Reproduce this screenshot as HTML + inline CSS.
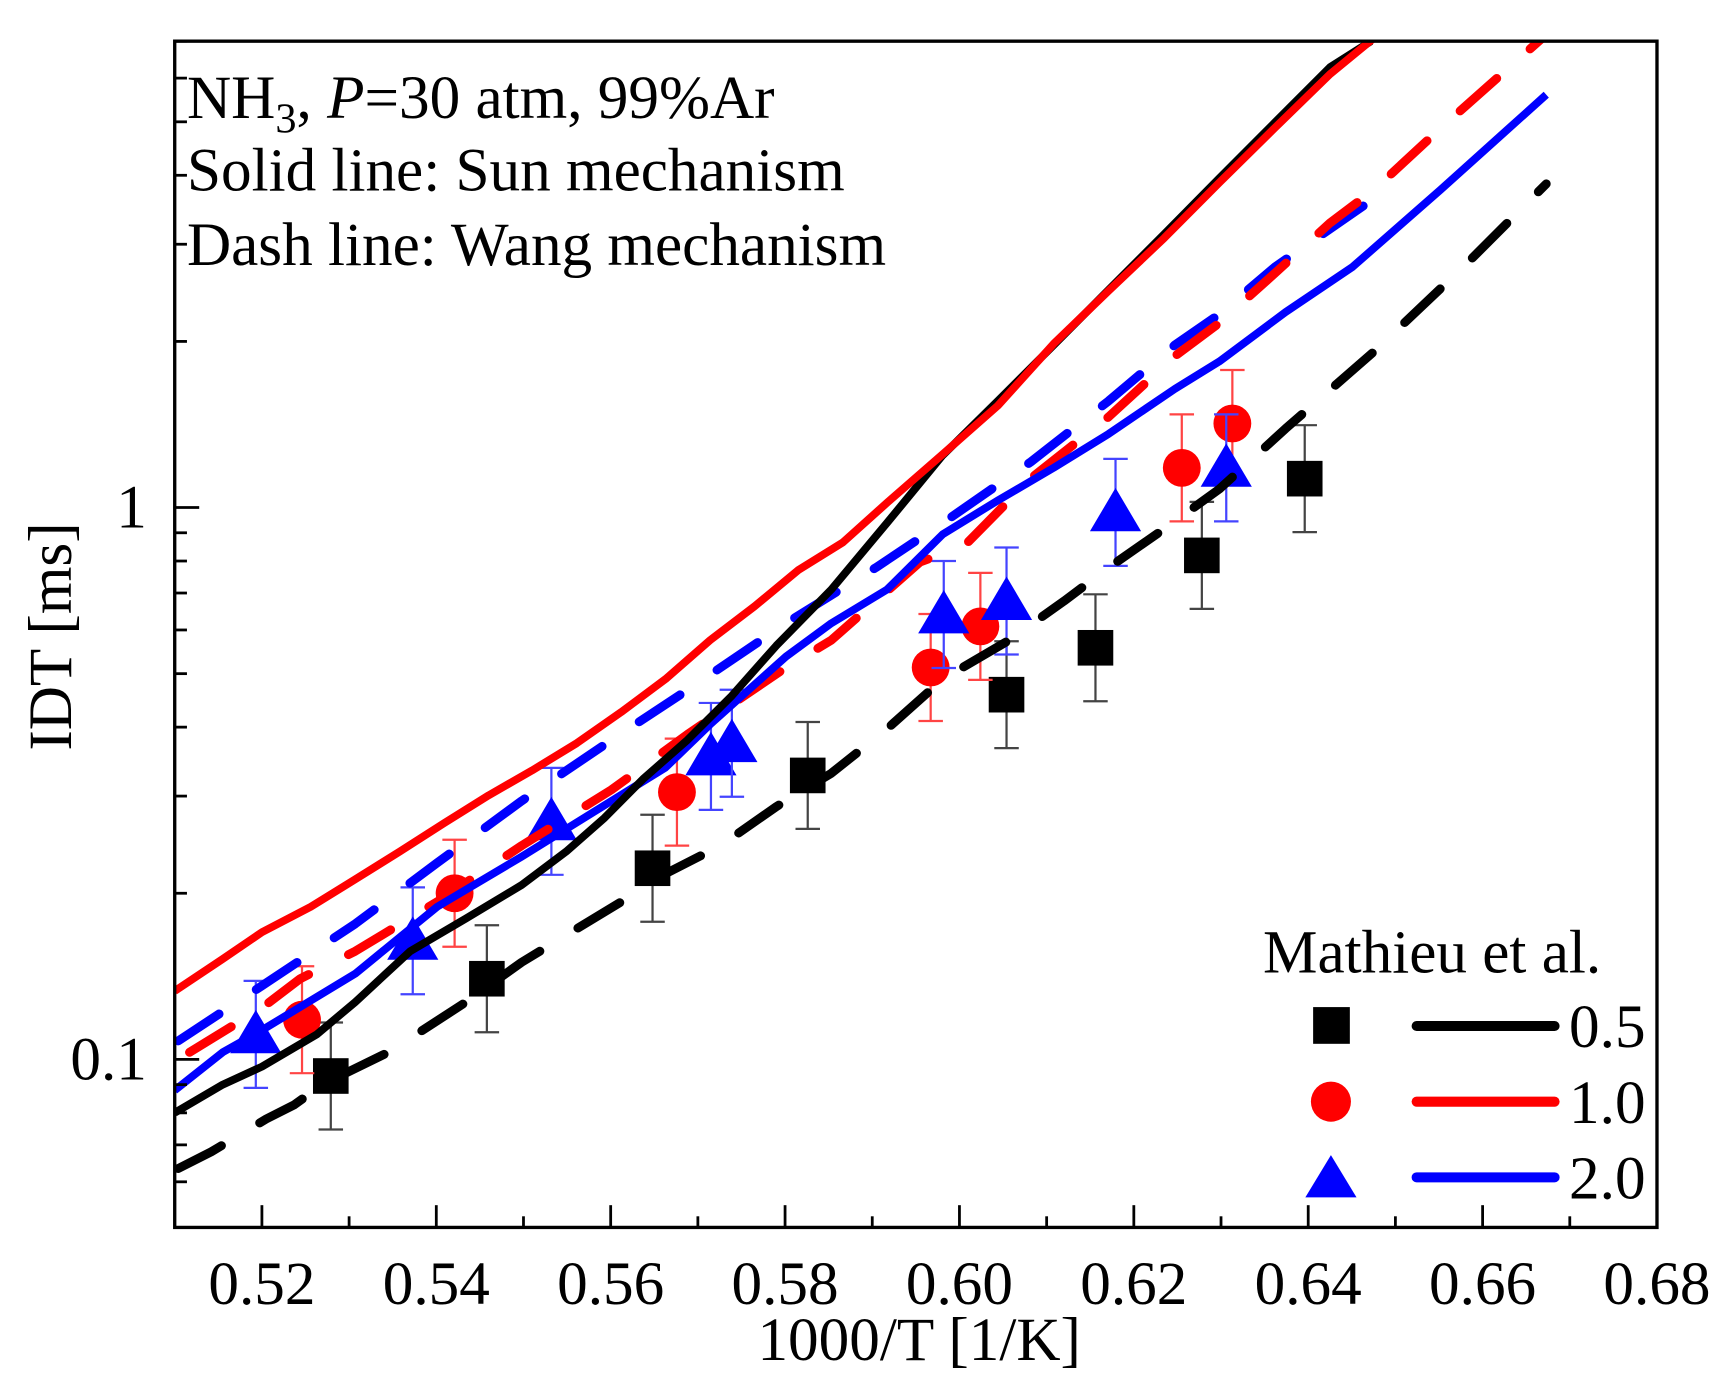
<!DOCTYPE html>
<html><head><meta charset="utf-8"><style>html,body{margin:0;padding:0;background:#fff}svg{display:block}text{font-family:"Liberation Serif","Times New Roman",serif}</style></head>
<body>
<svg id="chart" width="1736" height="1384" viewBox="0 0 1560 1243.7" xmlns="http://www.w3.org/2000/svg" font-family="Liberation Serif, serif">
<defs><clipPath id="plotclip"><rect x="157" y="37" width="1332" height="1066"/></clipPath></defs>
<g id="marks" clip-path="url(#plotclip)"></g>
<g id="axes"></g>
<g font-size="55" font-family="Liberation Serif, serif">
<text x="168" y="106">NH<tspan font-size="38" dy="13">3</tspan><tspan dy="-13">, </tspan><tspan font-style="italic">P</tspan>=30 atm, 99%Ar</text>
<text x="168" y="171">Solid line: Sun mechanism</text>
<text x="168" y="238">Dash line: Wang mechanism</text>
</g>
<text font-size="55" font-family="Liberation Serif, serif" transform="translate(64,572) rotate(-90)" text-anchor="middle">IDT [ms]</text>
<text font-size="55" font-family="Liberation Serif, serif" x="826" y="1222" text-anchor="middle">1000/T [1/K]</text>
<g font-family="Liberation Serif, serif">
<text x="1135" y="874" font-size="55">Mathieu et al.</text>
<rect x="1180" y="905" width="33" height="33" fill="#000"/>
<line x1="1273" y1="922" x2="1397" y2="922" stroke="#000" stroke-width="9" stroke-linecap="round"/>
<text x="1410" y="941" font-size="55">0.5</text>
<circle cx="1196" cy="990" r="18" fill="#f00"/>
<line x1="1273" y1="990" x2="1397" y2="990" stroke="#f00" stroke-width="9" stroke-linecap="round"/>
<text x="1410" y="1009" font-size="55">1.0</text>
<polygon points="1196,1038 1219,1076 1173,1076" fill="#00f"/>
<line x1="1273" y1="1058" x2="1397" y2="1058" stroke="#00f" stroke-width="9" stroke-linecap="round"/>
<text x="1410" y="1077" font-size="55">2.0</text>
</g>
</svg>
<script>
const xTicks = [0.52,0.54,0.56,0.58,0.60,0.62,0.64,0.66,0.68];
const xTickLabels = ["0.52","0.54","0.56","0.58","0.60","0.62","0.64","0.66","0.68"];
const yMajor = [0.1, 1];
const yMajorLabels = ["0.1","1"];
const yMinor = [0.06,0.07,0.08,0.09,0.2,0.3,0.4,0.5,0.6,0.7,0.8,0.9,2,3,4,5,6,7];

const sunBlackX = [0.5100,0.5155,0.5200,0.5263,0.5307,0.5370,0.5434,0.5498,0.5549,0.5593,0.5637,0.5688,0.5739,0.5790,0.5853,0.5917,0.5980,0.6044,0.6108,0.6171,0.6235,0.6298,0.6362,0.6425,0.6472];
const sunBlackY = [0.080,0.090,0.097,0.111,0.127,0.157,0.180,0.207,0.238,0.274,0.322,0.379,0.456,0.562,0.710,0.938,1.24,1.56,1.97,2.48,3.13,3.95,4.99,6.28,7.0];
const sunRedX = [0.5100,0.5155,0.5200,0.5256,0.5307,0.5358,0.5409,0.5460,0.5510,0.5561,0.5612,0.5663,0.5714,0.5765,0.5815,0.5866,0.5917,0.5981,0.6044,0.6108,0.6171,0.6235,0.6298,0.6362,0.6425,0.6485];
const sunRedY = [0.133,0.152,0.170,0.189,0.212,0.238,0.268,0.301,0.334,0.374,0.426,0.489,0.575,0.662,0.770,0.864,1.02,1.25,1.53,1.98,2.47,3.08,3.88,4.88,6.10,7.3];
const sunBlueX = [0.5100,0.5155,0.5200,0.5307,0.5401,0.5498,0.5601,0.5663,0.5715,0.5801,0.5853,0.5917,0.5981,0.6044,0.6108,0.6171,0.6247,0.6298,0.6374,0.6451,0.6552,0.6673];
const sunBlueY = [0.0879,0.103,0.113,0.143,0.189,0.233,0.294,0.338,0.406,0.537,0.617,0.710,0.895,1.03,1.18,1.36,1.64,1.84,2.26,2.73,3.77,5.60];
const wangRedX = [0.5117,0.5200,0.5244,0.5307,0.5401,0.5498,0.5601,0.5688,0.5801,0.5853,0.5955,0.6006,0.6082,0.6171,0.6247,0.6298,0.6362,0.6425,0.6476,0.6552,0.6667];
const wangRedY = [0.103,0.124,0.140,0.157,0.193,0.244,0.308,0.388,0.513,0.575,0.797,0.854,1.13,1.46,1.88,2.16,2.66,3.28,3.77,4.87,7.06];
const wangBlueX = [0.5104,0.5200,0.5307,0.5401,0.5498,0.5601,0.5688,0.5801,0.5904,0.5981,0.6082,0.6171,0.6247,0.6298,0.6362,0.6463];
const wangBlueY = [0.108,0.136,0.176,0.227,0.294,0.379,0.467,0.617,0.778,0.938,1.21,1.56,1.97,2.24,2.73,3.52];
const wangBlackX = [0.5104,0.5142,0.5205,0.5237,0.5269,0.5345,0.5377,0.5434,0.5498,0.5549,0.5612,0.5663,0.5726,0.5790,0.5853,0.5917,0.5981,0.6057,0.6120,0.6171,0.6235,0.6298,0.6374,0.6476,0.6578,0.6673];
const wangBlackY = [0.0634,0.068,0.078,0.0827,0.090,0.103,0.111,0.127,0.150,0.168,0.193,0.217,0.244,0.287,0.330,0.397,0.489,0.575,0.677,0.778,0.915,1.08,1.39,1.92,2.73,3.86];

const expSquareX = [0.5279,0.5458,0.5648,0.5826,0.6054,0.6156,0.6278,0.6396];
const expSquareY = [0.0933,0.140,0.222,0.327,0.458,0.557,0.819,1.128];
const expCircleX = [0.5246,0.5421,0.5676,0.5967,0.6024,0.6255,0.6313];
const expCircleY = [0.118,0.200,0.305,0.513,0.609,1.18,1.42];
const expTriX = [0.5193,0.5373,0.5532,0.5715,0.5739,0.5982,0.6054,0.6179,0.6306];
const expTriY = [0.111,0.164,0.270,0.354,0.374,0.640,0.677,0.98,1.18];
const errFactor = [1.25, 1.25, 1.25];

const X0=157,X1=1489,Y0=1103,Y1=37, xMin=0.51, xMax=0.68, yMin=0.0496, yMax=7.0;
function sx(v){return X0+(v-xMin)/(xMax-xMin)*(X1-X0);}
function sy(v){return Y0-(Math.log10(v)-Math.log10(yMin))/(Math.log10(yMax)-Math.log10(yMin))*(Y0-Y1);}
const NS="http://www.w3.org/2000/svg";
const marks=document.getElementById('marks'), axes=document.getElementById('axes');
function mk(tag,attrs,parent){const e=document.createElementNS(NS,tag);for(const k in attrs)e.setAttribute(k,attrs[k]);parent.appendChild(e);return e;}

function markers(xs,ys,color,barColor,shape,ef,name){
  const g=mk('g',{},marks);
  
  
  xs.forEach((x,i)=>{
    const cx=sx(x), cy=sy(ys[i]), yt=sy(ys[i]*ef), yb=sy(ys[i]/ef);
    const eb=mk('path',{d:`M${cx},${yt}V${yb}M${cx-11},${yt}H${cx+11}M${cx-11},${yb}H${cx+11}`,stroke:barColor,'stroke-width':2,fill:'none'},g);
    
    
    let m;
    if(shape==='square') m=mk('rect',{x:cx-16,y:cy-16,width:32,height:32,fill:color},g);
    else if(shape==='circle') m=mk('circle',{cx:cx,cy:cy,r:17,fill:color},g);
    else m=mk('polygon',{points:`${cx},${cy-22} ${cx+23},${cy+17} ${cx-23},${cy+17}`,fill:color},g);
    
    
  });
}
markers(expSquareX,expSquareY,'#000','#444','square',errFactor[0],'mathieu-0.5-points');
markers(expCircleX,expCircleY,'#f00','#f44','circle',errFactor[1],'mathieu-1.0-points');
markers(expTriX,expTriY,'#00f','#44f','tri',errFactor[2],'mathieu-2.0-points');

function line(xs,ys,color,dash,name){
  const d=xs.map((x,i)=>(i?'L':'M')+sx(x).toFixed(1)+','+sy(ys[i]).toFixed(1)).join('');
  const p=mk('path',{d:d,stroke:color,'stroke-width':dash?8:7,fill:'none','stroke-linecap':dash?'round':'butt','stroke-linejoin':'round'},marks);
  if(dash)p.setAttribute('stroke-dasharray','44 40');
  
  
}
line(wangBlackX,wangBlackY,'#000',true,'wang-0.5-line');
line(wangBlueX,wangBlueY,'#00f',true,'wang-2.0-line');
line(wangRedX,wangRedY,'#f00',true,'wang-1.0-line');
line(sunBlueX,sunBlueY,'#00f',false,'sun-2.0-line');
line(sunBlackX,sunBlackY,'#000',false,'sun-0.5-line');
line(sunRedX,sunRedY,'#f00',false,'sun-1.0-line');

const frame=mk('rect',{x:X0,y:Y1,width:X1-X0,height:Y0-Y1,fill:'none',stroke:'#000','stroke-width':3},axes);


xTicks.forEach((t,i)=>{
  const x=sx(t);
  const tk=mk('line',{x1:x,x2:x,y1:Y0,y2:Y0-20,stroke:'#000','stroke-width':2.5},axes);
  
  
  const lb=mk('text',{x:x,y:1172,'font-size':55,'text-anchor':'middle','font-family':'Liberation Serif, serif'},axes);
  lb.textContent=xTickLabels[i];
  
  
  if(i<xTicks.length-1){
    const xm=sx(t+0.01);
    const mt=mk('line',{x1:xm,x2:xm,y1:Y0,y2:Y0-10,stroke:'#000','stroke-width':2.5},axes);
    
    
  }
});
yMajor.forEach((t,i)=>{
  const y=sy(t);
  const tk=mk('line',{x1:X0,x2:X0+22,y1:y,y2:y,stroke:'#000','stroke-width':2.5},axes);
  
  
  const lb=mk('text',{x:X0-25,y:y+18,'font-size':55,'text-anchor':'end','font-family':'Liberation Serif, serif'},axes);
  lb.textContent=yMajorLabels[i];
  
  
});
yMinor.forEach(t=>{
  const y=sy(t);
  const tk=mk('line',{x1:X0,x2:X0+11,y1:y,y2:y,stroke:'#000','stroke-width':2.5},axes);
  
  
});
</script>
</body></html>
